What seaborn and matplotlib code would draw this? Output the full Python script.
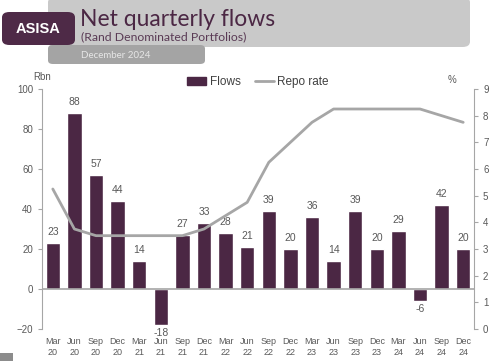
import numpy as np
import pandas as pd
import matplotlib
matplotlib.use("Agg")
import matplotlib.pyplot as plt
import seaborn as sns
from matplotlib.patches import FancyBboxPatch, Rectangle, Patch
from matplotlib.lines import Line2D

quarters = ["Mar\n20", "Jun\n20", "Sep\n20", "Dec\n20", "Mar\n21", "Jun\n21", "Sep\n21",
            "Dec\n21", "Mar\n22", "Jun\n22", "Sep\n22", "Dec\n22", "Mar\n23", "Jun\n23",
            "Sep\n23", "Dec\n23", "Mar\n24", "Jun\n24", "Sep\n24", "Dec\n24"]
flows = [23, 88, 57, 44, 14, -18, 27, 33, 28, 21, 39, 20, 36, 14, 39, 20, 29, -6, 42, 20]
repo_rate = [5.25, 3.75, 3.5, 3.5, 3.5, 3.5, 3.5, 3.75, 4.25, 4.75, 6.25, 7.0, 7.75, 8.25,
             8.25, 8.25, 8.25, 8.25, 8.0, 7.75]

PURPLE = "#4b2744"
GREY_LINE = "#a6a6a6"
TXT = "#595959"

df = pd.DataFrame({"quarter": quarters, "flows": flows, "repo": repo_rate})

sns.set_style("white")
plt.rcParams["font.family"] = ["Liberation Sans", "DejaVu Sans"]

fig = plt.figure(figsize=(4.96, 3.61), dpi=100)
ax = fig.add_axes([42 / 496, 1 - 329 / 361, 432 / 496, 240 / 361])

sns.barplot(data=df, x="quarter", y="flows", color=PURPLE, width=0.66,
            saturation=1, ax=ax)
ax.set_ylim(-20, 100)
ax.set_yticks(range(-20, 101, 20))
ax.set_xlim(-0.5, len(quarters) - 0.5)
ax.axhline(0, color=GREY_LINE, lw=1.2, zorder=1)
ax.set_xlabel("")
ax.set_ylabel("")

for i, v in enumerate(flows):
    if v >= 0:
        ax.text(i, v + 3, str(v), ha="center", va="bottom", fontsize=7.5, color=TXT)
    else:
        ax.text(i, v - 1.5, str(v), ha="center", va="top", fontsize=7.5, color=TXT)

ax2 = ax.twinx()
sns.lineplot(data=df, x=np.arange(len(quarters)), y="repo", color=GREY_LINE, lw=2,
             sort=False, ax=ax2)
ax2.set_ylim(0, 9)
ax2.set_yticks(range(0, 10))
ax2.set_ylabel("")

for a in (ax, ax2):
    for s in ["top", "bottom"]:
        a.spines[s].set_visible(False)
    a.tick_params(colors=TXT, labelsize=7, length=3, width=0.8, color=GREY_LINE)
ax.spines["left"].set_color(GREY_LINE)
ax.spines["right"].set_visible(False)
ax2.spines["right"].set_color(GREY_LINE)
ax2.spines["left"].set_visible(False)
ax.tick_params(axis="x", length=0, labelsize=6.5, pad=6)
ax.tick_params(axis="y", left=True)
ax2.tick_params(axis="y", right=True)

fig.text(33 / 496, 1 - 77 / 361, "Rbn", fontsize=7, color=TXT, ha="left", va="center")
fig.text(452 / 496, 1 - 80 / 361, "%", fontsize=7, color=TXT, ha="center", va="center")

handles = [Patch(facecolor=PURPLE, edgecolor=PURPLE, label="Flows"),
           Line2D([0], [0], color=GREY_LINE, lw=2, label="Repo rate")]
fig.legend(handles=handles, loc="center", bbox_to_anchor=(258 / 496, 1 - 82 / 361),
           ncol=2, frameon=False, fontsize=8.5, handlelength=1.6, handletextpad=0.3,
           columnspacing=1.2, labelcolor="#404040")

# header
fig.patches.append(FancyBboxPatch((48 / 496, 1 - 47 / 361), 422 / 496, 50 / 361,
                                  boxstyle="round,pad=0,rounding_size=0.015",
                                  transform=fig.transFigure, facecolor="#c9c9c9",
                                  edgecolor="none", zorder=0))
fig.patches.append(FancyBboxPatch((48 / 496, 1 - 64 / 361), 157 / 496, 19 / 361,
                                  boxstyle="round,pad=0,rounding_size=0.01",
                                  transform=fig.transFigure, facecolor="#a4a4a4",
                                  edgecolor="none", zorder=0))
fig.patches.append(FancyBboxPatch((2 / 496, 1 - 45 / 361), 73 / 496, 33 / 361,
                                  boxstyle="round,pad=0,rounding_size=0.015",
                                  transform=fig.transFigure, facecolor="#4e2a47",
                                  edgecolor="none", zorder=1))
fig.patches.append(Rectangle((0, 0), 13 / 496, 8 / 361, transform=fig.transFigure,
                             facecolor="#8c8c8c", edgecolor="none"))
fig.text(38 / 496, 1 - 29 / 361, "ASISA", fontsize=10.5, color="white",
         fontweight="bold", ha="center", va="center", zorder=3)
fig.text(80 / 496, 1 - 20 / 361, "Net quarterly flows", fontsize=16.5, color=PURPLE,
         ha="left", va="center", family=["Lato", "DejaVu Sans"])
fig.text(81 / 496, 1 - 37 / 361, "(Rand Denominated Portfolios)", fontsize=8.8,
         color="#5a3b55", ha="left", va="center", family=["Lato", "DejaVu Sans"])
fig.text(81 / 496, 1 - 55.5 / 361, "December 2024", fontsize=7, color="#e6e6e6",
         ha="left", va="center", family=["Lato", "DejaVu Sans"])

fig.savefig("out.png", dpi=100)
